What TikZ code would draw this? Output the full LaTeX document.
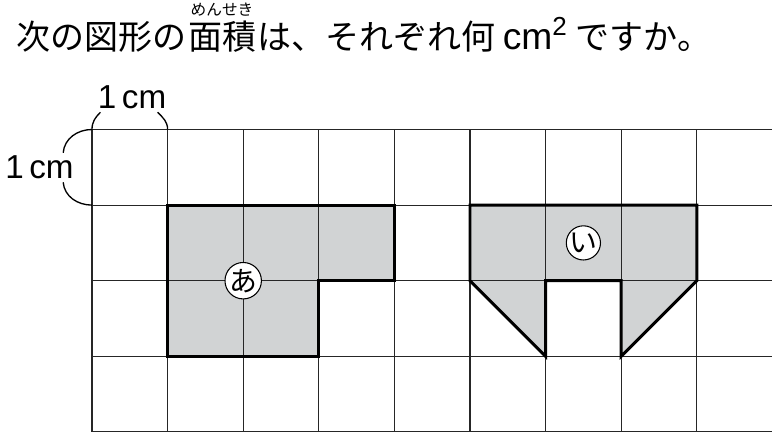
\documentclass[tikz,border=0pt]{standalone}
\usepackage{fontspec}
\setmainfont{Noto Sans CJK JP}
\newfontfamily\latin{Liberation Sans}
\usetikzlibrary{positioning}
\definecolor{areagray}{RGB}{209,211,212}
\def\shapeA{(1,-1) -- (4,-1) -- (4,-2) -- (3,-2) -- (3,-3) -- (1,-3) -- cycle}
\def\shapeB{(5,-1) -- (8,-1) -- (8,-2) -- (7,-3) -- (7,-2) -- (6,-2) -- (6,-3) -- (5,-2) -- cycle}
\tikzset{
	title/.style={inner sep=0pt,font=\fontsize{12.8}{15}\selectfont},
	unit/.style={inner sep=1pt,font=\latin\fontsize{12.5}{14}\selectfont},
	tag/.style={circle,draw,fill=white,inner sep=0pt,minimum size=0.43cm,font=\fontsize{10.5}{11}\selectfont}
}

\begin{document}
\begin{tikzpicture}
			\useasboundingbox (-1.217,-4.028) rectangle (8.995,1.713);
			\node[title,anchor=base west] (t1) at (-1.0,1.061) {次の図形の};
			\node[title,base right=0pt of t1] (t2) {面積};
			\node[title,base right=0pt of t2] (t3) {は、それぞれ何 {\latin\fontsize{14}{16}\selectfont cm\textsuperscript{2}} ですか。};
			\node[inner sep=0pt,font=\fontsize{5.9}{7}\selectfont,above=0.5mm of t2] (ruby) {めんせき};
			\fill[areagray] \shapeA;
			\fill[areagray] \shapeB;
			\draw[black!85,line width=0.4pt] (0,-4) grid (8.99,0);
			\draw[line width=1.1pt] \shapeA;
			\draw[line width=1.1pt] \shapeB;
			\node[tag] (a) at (2,-2) {あ};
			\node[tag] (i) at (6.5,-1.5) {い};
			\node[unit] (cmtop) at (0.53,0.423) {1\,cm};
			\node[unit] (cmleft) at (-0.694,-0.503) {1\,cm};
			\draw[line width=0.5pt] (0,0) to[out=90,in=-135] (cmtop.205);
			\draw[line width=0.5pt] (cmtop.-30) to[out=-45,in=90] (1,0);
			\draw[line width=0.5pt] (0,0) to[out=180,in=85] (cmleft.32);
			\draw[line width=0.5pt] (cmleft.-32) to[out=-85,in=180] (0,-1);
		\end{tikzpicture}
\end{document}
